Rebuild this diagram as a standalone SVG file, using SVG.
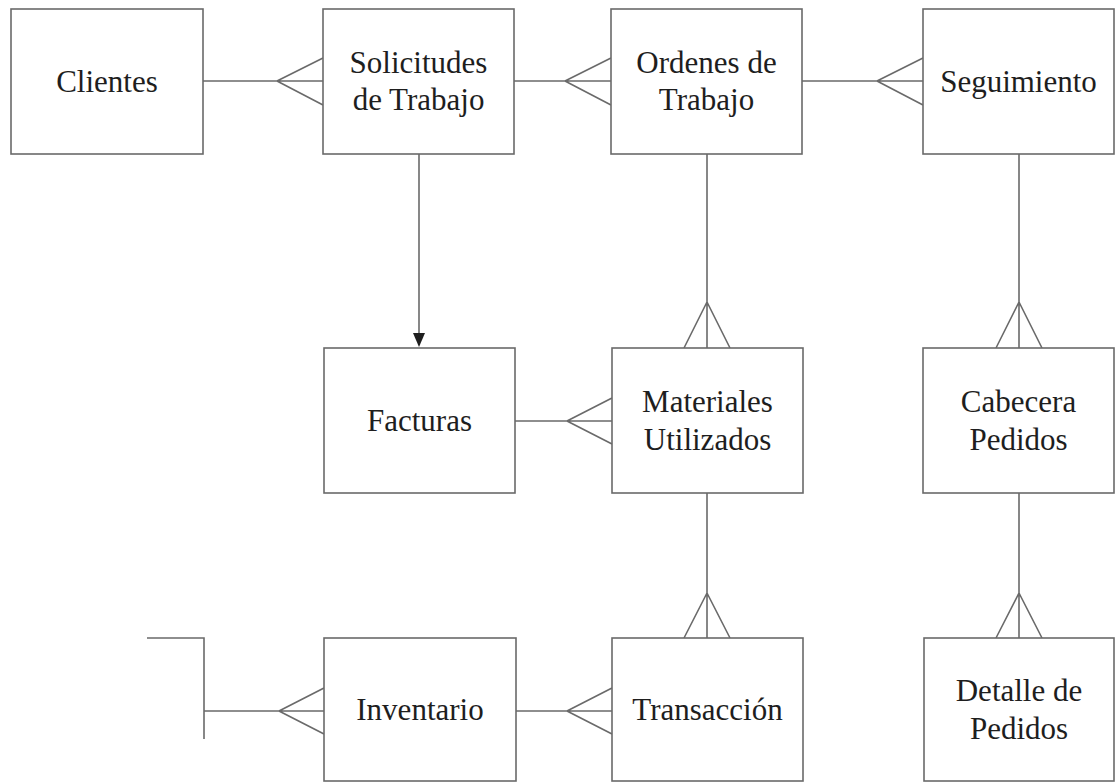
<svg xmlns="http://www.w3.org/2000/svg" width="1116" height="782" viewBox="0 0 1116 782">
<style>
.box{fill:#fff;stroke:#6a6a6a;stroke-width:1.6}
.ln{fill:none;stroke:#6a6a6a;stroke-width:1.6}
.t{font-family:"Liberation Serif","Times New Roman",serif;font-size:31px;fill:#1e1e1e;text-anchor:middle}
</style>
<rect width="1116" height="782" fill="#fff"/>
<g id="connectors">
<path class="ln" d="M203,81H323M277,81L323,58M277,81L323,105"/>
<path class="ln" d="M514,81H611M565,81L611,58M565,81L611,105"/>
<path class="ln" d="M802,81H923M877,81L923,58M877,81L923,105"/>
<path class="ln" d="M419,154V334"/>
<polygon points="413,333 425,333 419,347" fill="#1e1e1e"/>
<path class="ln" d="M707,154V348M707,302L684,348M707,302L730,348"/>
<path class="ln" d="M1019,154V348M1019,302L996,348M1019,302L1042,348"/>
<path class="ln" d="M515,421H612M567,421L612,398M567,421L612,444"/>
<path class="ln" d="M707,493V638M707,593L684,638M707,593L730,638"/>
<path class="ln" d="M1019,493V638M1019,593L996,638M1019,593L1042,638"/>
<path class="ln" d="M516,711H612M567,711L612,688M567,711L612,734"/>
<path class="ln" d="M204,711H324M279,711L324,688M279,711L324,734"/>
<path class="ln" d="M147,638H204V739"/>
</g>
<g id="clientes"><rect class="box" x="11" y="9" width="192" height="145"/><text class="t" x="107" y="92">Clientes</text></g>
<g id="solicitudes"><rect class="box" x="323" y="9" width="191" height="145"/><text class="t" x="418.5" y="73">Solicitudes</text><text class="t" x="418.5" y="110">de Trabajo</text></g>
<g id="ordenes"><rect class="box" x="611" y="9" width="191" height="145"/><text class="t" x="706.5" y="73">Ordenes de</text><text class="t" x="706.5" y="110">Trabajo</text></g>
<g id="seguimiento"><rect class="box" x="923" y="9" width="191" height="145"/><text class="t" x="1018.5" y="92">Seguimiento</text></g>
<g id="facturas"><rect class="box" x="324" y="348" width="191" height="145"/><text class="t" x="419.5" y="431">Facturas</text></g>
<g id="materiales"><rect class="box" x="612" y="348" width="191" height="145"/><text class="t" x="707.5" y="412">Materiales</text><text class="t" x="707.5" y="450">Utilizados</text></g>
<g id="cabecera"><rect class="box" x="923" y="348" width="191" height="145"/><text class="t" x="1018.5" y="412">Cabecera</text><text class="t" x="1018.5" y="450">Pedidos</text></g>
<g id="inventario"><rect class="box" x="324" y="638" width="192" height="143"/><text class="t" x="420" y="720">Inventario</text></g>
<g id="transaccion"><rect class="box" x="612" y="638" width="191" height="143"/><text class="t" x="707.5" y="720">Transacción</text></g>
<g id="detalle"><rect class="box" x="924" y="638" width="190" height="143"/><text class="t" x="1019" y="701">Detalle de</text><text class="t" x="1019" y="739">Pedidos</text></g>
</svg>
